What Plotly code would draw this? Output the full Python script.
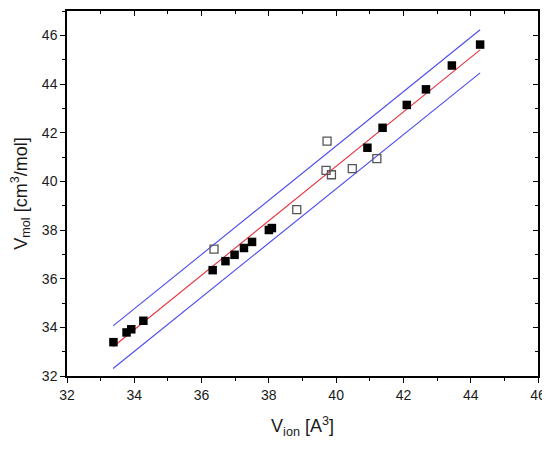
import plotly.graph_objects as go

# Filled squares (data set 1)
filled_x = [33.38, 33.77, 33.91, 34.27, 36.33, 36.71, 36.98, 37.26, 37.50, 38.00, 38.09,
            40.93, 41.38, 42.10, 42.67, 43.44, 44.28]
filled_y = [33.39, 33.79, 33.92, 34.27, 36.35, 36.72, 36.98, 37.26, 37.51, 38.00, 38.08,
            41.38, 42.20, 43.14, 43.78, 44.76, 45.62]

# Open squares (data set 2)
open_x = [36.37, 38.83, 39.73, 39.70, 39.86, 40.48, 41.21]
open_y = [37.21, 38.84, 41.65, 40.45, 40.27, 40.52, 40.93]

# Fit line and bounds
line_x = [33.37, 44.28]
fit_y = [33.20, 45.40]
upper_y = [34.06, 46.23]
lower_y = [32.31, 44.46]

x_ticks = [32, 34, 36, 38, 40, 42, 44, 46]
y_ticks = [32, 34, 36, 38, 40, 42, 44, 46]

FONT = "Liberation Sans, Arial, sans-serif"

fig = go.Figure()
fig.add_trace(go.Scatter(x=line_x, y=upper_y, mode="lines",
                         line=dict(color="#4a4af0", width=1.1), showlegend=False))
fig.add_trace(go.Scatter(x=line_x, y=lower_y, mode="lines",
                         line=dict(color="#4a4af0", width=1.1), showlegend=False))
fig.add_trace(go.Scatter(x=line_x, y=fit_y, mode="lines",
                         line=dict(color="#e8303a", width=1.1), showlegend=False))
fig.add_trace(go.Scatter(x=open_x, y=open_y, mode="markers",
                         marker=dict(symbol="square-open", size=8, color="#555555",
                                     line=dict(width=1.3, color="#555555")),
                         showlegend=False))
fig.add_trace(go.Scatter(x=filled_x, y=filled_y, mode="markers",
                         marker=dict(symbol="square", size=8.5, color="black",
                                     line=dict(width=0)),
                         showlegend=False))
# dummy trace on overlaid axes for mirrored inside ticks
fig.add_trace(go.Scatter(x=[None], y=[None], xaxis="x2", yaxis="y2", showlegend=False))

common = dict(showgrid=False, zeroline=False, showline=True, linecolor="black",
              linewidth=1.5, automargin=False)

fig.update_layout(
    width=542, height=441,
    margin=dict(l=59, r=12, t=3, b=73),
    paper_bgcolor="white", plot_bgcolor="white",
    font=dict(family=FONT, size=14, color="#1a1a1a"),
    xaxis=dict(range=[32, 46], tickvals=x_ticks, ticks="outside", ticklen=5,
               tickwidth=1.2, tickcolor="black",
               minor=dict(dtick=1, ticks="outside", ticklen=3, tickwidth=1.2, tickcolor="black"),
               title=dict(text="V<sub>ion</sub> [A<sup>3</sup>]", font=dict(size=18), standoff=18),
               **common),
    yaxis=dict(range=[32, 47], tickvals=y_ticks, ticks="outside", ticklen=5,
               tickwidth=1.2, tickcolor="black",
               minor=dict(dtick=1, ticks="outside", ticklen=3, tickwidth=1.2, tickcolor="black"),
               title=dict(text="V<sub>mol</sub> [cm<sup>3</sup>/mol]", font=dict(size=18), standoff=12),
               **common),
    xaxis2=dict(range=[32, 46], overlaying="x", side="top", tickvals=x_ticks,
                ticks="inside", ticklen=5, tickwidth=1.2, tickcolor="black",
                minor=dict(dtick=1, ticks="inside", ticklen=3, tickwidth=1.2, tickcolor="black"),
                showticklabels=False, **common),
    yaxis2=dict(range=[32, 47], overlaying="y", side="right", tickvals=y_ticks,
                ticks="inside", ticklen=5, tickwidth=1.2, tickcolor="black",
                minor=dict(dtick=1, ticks="inside", ticklen=3, tickwidth=1.2, tickcolor="black"),
                showticklabels=False, **common),
)

fig.write_html("out.html")
